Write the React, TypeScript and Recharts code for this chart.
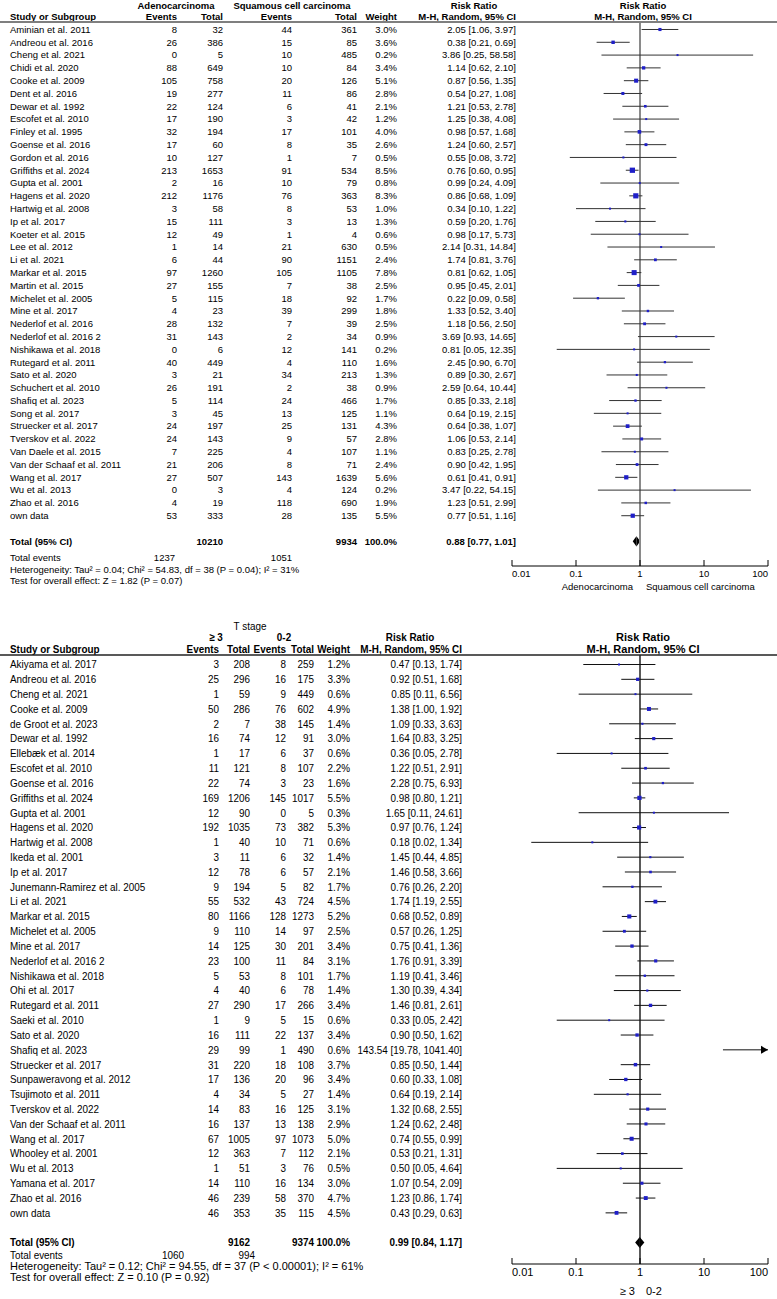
import React from "react"
import {
  ComposedChart,
  Scatter,
  ErrorBar,
  XAxis,
  YAxis,
  ReferenceLine,
  ReferenceArea,
  ReferenceDot,
} from "recharts"

const FONT = "'Liberation Sans', Arial, sans-serif"

const logTicks = [0.01, 0.1, 1, 10, 100]

// ---- panel 1: adenocarcinoma vs squamous cell carcinoma ----
const histStudies = [
  "Aminian et al. 2011", "Andreou et al. 2016", "Cheng et al. 2021", "Chidi et al. 2020",
  "Cooke et al. 2009", "Dent et al. 2016", "Dewar et al. 1992", "Escofet et al. 2010",
  "Finley et al. 1995", "Goense et al. 2016", "Gordon et al. 2016", "Griffiths et al. 2024",
  "Gupta et al. 2001", "Hagens et al. 2020", "Hartwig et al. 2008", "Ip et al. 2017",
  "Koeter et al. 2015", "Lee et al. 2012", "Li et al. 2021", "Markar et al. 2015",
  "Martin et al. 2015", "Michelet et al. 2005", "Mine et al. 2017", "Nederlof et al. 2016",
  "Nederlof et al. 2016 2", "Nishikawa et al. 2018", "Rutegard et al. 2011", "Sato et al. 2020",
  "Schuchert et al. 2010", "Shafiq et al. 2023", "Song et al. 2017", "Struecker et al. 2017",
  "Tverskov et al. 2022", "Van Daele et al. 2015", "Van der Schaaf et al. 2011", "Wang et al. 2017",
  "Wu et al. 2013", "Zhao et al. 2016", "own data",
]
const histAdenoEvents = [8, 26, 0, 88, 105, 19, 22, 17, 32, 17, 10, 213, 2, 212, 3, 15, 12, 1, 6, 97, 27, 5, 4, 28, 31, 0, 40, 3, 26, 5, 3, 24, 24, 7, 21, 27, 0, 4, 53]
const histAdenoTotal = [32, 386, 5, 649, 758, 277, 124, 190, 194, 60, 127, 1653, 16, 1176, 58, 111, 49, 14, 44, 1260, 155, 115, 23, 132, 143, 6, 449, 21, 191, 114, 45, 197, 143, 225, 206, 507, 3, 19, 333]
const histSccEvents = [44, 15, 10, 10, 20, 11, 6, 3, 17, 8, 1, 91, 10, 76, 8, 3, 1, 21, 90, 105, 7, 18, 39, 7, 2, 12, 4, 34, 2, 24, 13, 25, 9, 4, 8, 143, 4, 118, 28]
const histSccTotal = [361, 85, 485, 84, 126, 86, 41, 42, 101, 35, 7, 534, 79, 363, 53, 13, 4, 630, 1151, 1105, 38, 92, 299, 39, 34, 141, 110, 213, 38, 466, 125, 131, 57, 107, 71, 1639, 124, 690, 135]
const histWeight = [3.0, 3.6, 0.2, 3.4, 5.1, 2.8, 2.1, 1.2, 4.0, 2.6, 0.5, 8.5, 0.8, 8.3, 1.0, 1.3, 0.6, 0.5, 2.4, 7.8, 2.5, 1.7, 1.8, 2.5, 0.9, 0.2, 1.6, 1.3, 0.9, 1.7, 1.1, 4.3, 2.8, 1.1, 2.4, 5.6, 0.2, 1.9, 5.5]
const histRR = [2.05, 0.38, 3.86, 1.14, 0.87, 0.54, 1.21, 1.25, 0.98, 1.24, 0.55, 0.76, 0.99, 0.86, 0.34, 0.59, 0.98, 2.14, 1.74, 0.81, 0.95, 0.22, 1.33, 1.18, 3.69, 0.81, 2.45, 0.89, 2.59, 0.85, 0.64, 0.64, 1.06, 0.83, 0.90, 0.61, 3.47, 1.23, 0.77]
const histLow = [1.06, 0.21, 0.25, 0.62, 0.56, 0.27, 0.53, 0.38, 0.57, 0.60, 0.08, 0.60, 0.24, 0.68, 0.10, 0.20, 0.17, 0.31, 0.81, 0.62, 0.45, 0.09, 0.52, 0.56, 0.93, 0.05, 0.90, 0.30, 0.64, 0.33, 0.19, 0.38, 0.53, 0.25, 0.42, 0.41, 0.22, 0.51, 0.51]
const histHigh = [3.97, 0.69, 58.58, 2.10, 1.35, 1.08, 2.78, 4.08, 1.68, 2.57, 3.72, 0.95, 4.09, 1.09, 1.22, 1.76, 5.73, 14.84, 3.76, 1.05, 2.01, 0.58, 3.40, 2.50, 14.65, 12.35, 6.70, 2.67, 10.44, 2.18, 2.15, 1.07, 2.14, 2.78, 1.95, 0.91, 54.15, 2.99, 1.16]
const histPooled = [0.88, 0.77, 1.01]
const histSampleTotals = [10210, 9934]
const histEventTotals = [1237, 1051]
const histHeterogeneity = "Heterogeneity: Tau² = 0.04; Chi² = 54.83, df = 38 (P = 0.04); I² = 31%"
const histOverall = "Test for overall effect: Z = 1.82 (P = 0.07)"

// ---- panel 2: T stage >= 3 vs 0-2 ----
const tStudies = [
  "Akiyama et al. 2017", "Andreou et al. 2016", "Cheng et al. 2021", "Cooke et al. 2009",
  "de Groot et al. 2023", "Dewar et al. 1992", "Ellebæk et al. 2014", "Escofet et al. 2010",
  "Goense et al. 2016", "Griffiths et al. 2024", "Gupta et al. 2001", "Hagens et al. 2020",
  "Hartwig et al. 2008", "Ikeda et al. 2001", "Ip et al. 2017", "Junemann-Ramirez et al. 2005",
  "Li et al. 2021", "Markar et al. 2015", "Michelet et al. 2005", "Mine et al. 2017",
  "Nederlof et al. 2016 2", "Nishikawa et al. 2018", "Ohi et al. 2017", "Rutegard et al. 2011",
  "Saeki et al. 2010", "Sato et al. 2020", "Shafiq et al. 2023", "Struecker et al. 2017",
  "Sunpaweravong et al. 2012", "Tsujimoto et al. 2011", "Tverskov et al. 2022", "Van der Schaaf et al. 2011",
  "Wang et al. 2017", "Whooley et al. 2001", "Wu et al. 2013", "Yamana et al. 2017",
  "Zhao et al. 2016", "own data",
]
const tHighEvents = [3, 25, 1, 50, 2, 16, 1, 11, 22, 169, 12, 192, 1, 3, 12, 9, 55, 80, 9, 14, 23, 5, 4, 27, 1, 16, 29, 31, 17, 4, 14, 16, 67, 12, 1, 14, 46, 46]
const tHighTotal = [208, 296, 59, 286, 7, 74, 17, 121, 74, 1206, 90, 1035, 40, 11, 78, 194, 532, 1166, 110, 125, 100, 53, 40, 290, 9, 111, 99, 220, 136, 34, 83, 137, 1005, 363, 51, 110, 239, 353]
const tLowEvents = [8, 16, 9, 76, 38, 12, 6, 8, 3, 145, 0, 73, 10, 6, 6, 5, 43, 128, 14, 30, 11, 8, 6, 17, 5, 22, 1, 18, 20, 5, 16, 13, 97, 7, 3, 16, 58, 35]
const tLowTotal = [259, 175, 449, 602, 145, 91, 37, 107, 23, 1017, 5, 382, 71, 32, 57, 82, 724, 1273, 97, 201, 84, 101, 78, 266, 15, 137, 490, 108, 96, 27, 125, 138, 1073, 112, 76, 134, 370, 115]
const tWeight = [1.2, 3.3, 0.6, 4.9, 1.4, 3.0, 0.6, 2.2, 1.6, 5.5, 0.3, 5.3, 0.6, 1.4, 2.1, 1.7, 4.5, 5.2, 2.5, 3.4, 3.1, 1.7, 1.4, 3.4, 0.6, 3.4, 0.6, 3.7, 3.4, 1.4, 3.1, 2.9, 5.0, 2.1, 0.5, 3.0, 4.7, 4.5]
const tRR = [0.47, 0.92, 0.85, 1.38, 1.09, 1.64, 0.36, 1.22, 2.28, 0.98, 1.65, 0.97, 0.18, 1.45, 1.46, 0.76, 1.74, 0.68, 0.57, 0.75, 1.76, 1.19, 1.30, 1.46, 0.33, 0.90, 143.54, 0.85, 0.60, 0.64, 1.32, 1.24, 0.74, 0.53, 0.50, 1.07, 1.23, 0.43]
const tLow = [0.13, 0.51, 0.11, 1.00, 0.33, 0.83, 0.05, 0.51, 0.75, 0.80, 0.11, 0.76, 0.02, 0.44, 0.58, 0.26, 1.19, 0.52, 0.26, 0.41, 0.91, 0.41, 0.39, 0.81, 0.05, 0.50, 19.78, 0.50, 0.33, 0.19, 0.68, 0.62, 0.55, 0.21, 0.05, 0.54, 0.86, 0.29]
const tHigh = [1.74, 1.68, 6.56, 1.92, 3.63, 3.25, 2.78, 2.91, 6.93, 1.21, 24.61, 1.24, 1.34, 4.85, 3.66, 2.20, 2.55, 0.89, 1.25, 1.36, 3.39, 3.46, 4.34, 2.61, 2.42, 1.62, 1041.40, 1.44, 1.08, 2.14, 2.55, 2.48, 0.99, 1.31, 4.64, 2.09, 1.74, 0.63]
const tPooled = [0.99, 0.84, 1.17]
const tSampleTotals = [9162, 9374]
const tEventTotals = [1060, 994]
const tHeterogeneity = "Heterogeneity: Tau² = 0.12; Chi² = 94.55, df = 37 (P < 0.00001); I² = 61%"
const tOverall = "Test for overall effect: Z = 0.10 (P = 0.92)"

type Cell = { x: number; anchor: "start" | "middle" | "end"; text: string }
type Row = { row: number; bold: boolean; cells: Cell[] }

const f2 = (v: number) => v.toFixed(2)
const ciLabel = (r: number, l: number, h: number) => `${f2(r)} [${f2(l)}, ${f2(h)}]`

// text squeezed horizontally a bit, like the condensed table type of the original
function Txt({ x, y, sx = 1, anchor = "start", size, bold = false, children }: any) {
  return (
    <text
      transform={`translate(${x},${y}) scale(${sx},1)`}
      dy="0.35em"
      textAnchor={anchor}
      fontFamily={FONT}
      fontSize={size}
      fontWeight={bold ? 700 : 400}
      fill="#000"
    >
      {children}
    </text>
  )
}

function buildRows(
  names: string[], e1: number[], n1: number[], e2: number[], n2: number[], w: number[],
  rr: number[], lo: number[], hi: number[], pooled: number[], sizes: number[], events: number[],
  cols: any, totalRow: number, eventsRow: number,
): Row[] {
  const rows: Row[] = names.map((name, i) => ({
    row: i,
    bold: false,
    cells: [
      { x: cols.name, anchor: "start", text: name },
      { x: cols.e1, anchor: "end", text: String(e1[i]) },
      { x: cols.t1, anchor: "end", text: String(n1[i]) },
      { x: cols.e2, anchor: "end", text: String(e2[i]) },
      { x: cols.t2, anchor: "end", text: String(n2[i]) },
      { x: cols.w, anchor: "end", text: w[i].toFixed(1) + "%" },
      { x: cols.ci, anchor: "end", text: ciLabel(rr[i], lo[i], hi[i]) },
    ],
  }))
  rows.push({
    row: totalRow,
    bold: true,
    cells: [
      { x: cols.name, anchor: "start", text: "Total (95% CI)" },
      { x: cols.t1, anchor: "end", text: String(sizes[0]) },
      { x: cols.t2, anchor: "end", text: String(sizes[1]) },
      { x: cols.w, anchor: "end", text: "100.0%" },
      { x: cols.ci, anchor: "end", text: ciLabel(pooled[0], pooled[1], pooled[2]) },
    ],
  })
  rows.push({
    row: eventsRow,
    bold: false,
    cells: [
      { x: cols.name, anchor: "start", text: "Total events" },
      { x: cols.te1, anchor: "end", text: String(events[0]) },
      { x: cols.te2, anchor: "end", text: String(events[1]) },
    ],
  })
  return rows
}

const leftHalf = (p: any) => (
  <polygon points={`${p.x},${p.y + p.height / 2} ${p.x + p.width},${p.y} ${p.x + p.width},${p.y + p.height}`} fill="#000" />
)
const rightHalf = (p: any) => (
  <polygon points={`${p.x},${p.y} ${p.x + p.width},${p.y + p.height / 2} ${p.x},${p.y + p.height}`} fill="#000" />
)
const arrowRight = (p: any) => (
  <polygon points={`${p.cx},${p.cy} ${p.cx - 7},${p.cy - 4} ${p.cx - 7},${p.cy + 4}`} fill="#000" />
)
const arrowLeft = (p: any) => (
  <polygon points={`${p.cx},${p.cy} ${p.cx + 7},${p.cy - 4} ${p.cx + 7},${p.cy + 4}`} fill="#000" />
)

function Forest(props: any) {
  const { names, rr, lo, hi, w, pooled, rows, height, top, axisH, domain, totalRow, fs, sx, axisFs, refStroke, refWidth, ciStroke, diamondHalf } = props
  // CIs running past the axis are cut at its ends (an arrow marks them)
  const points = names.map((_: string, i: number) => ({
    row: i,
    rr: rr[i],
    w: w[i],
    err: [rr[i] - Math.max(lo[i], 0.01), Math.min(hi[i], 100) - rr[i]],
  }))

  const rowTick = (p: any) => {
    const r = rows.find((q: Row) => Math.abs(q.row - p.payload.value) < 1e-6)
    if (!r) return <g />
    return (
      <g>
        {r.cells.map((c: Cell, k: number) => (
          <Txt key={k} x={c.x} y={p.y} sx={sx} anchor={c.anchor} size={fs} bold={r.bold}>{c.text}</Txt>
        ))}
      </g>
    )
  }

  const axisTick = (p: any) => {
    const last = logTicks.length - 1
    const anchor = p.index === 0 ? "start" : p.index === last ? "end" : "middle"
    return (
      <g>
        <line x1={p.x} x2={p.x} y1={p.y - 6} y2={p.y} stroke="#000" strokeWidth={1} />
        <text x={p.x} y={p.y + axisFs + 1} textAnchor={anchor} fontFamily={FONT} fontSize={axisFs} fill="#000">
          {String(p.payload.value)}
        </text>
      </g>
    )
  }

  const square = (p: any) => {
    const s = Math.max(2, 1.8 * Math.sqrt(p.payload.w))
    return <rect x={p.cx - s / 2} y={p.cy - s / 2} width={s} height={s} fill="#1f1fc8" />
  }

  return (
    <ComposedChart width={777} height={height} margin={{ top, right: 9, bottom: 0, left: 0 }}>
      <XAxis
        type="number"
        dataKey="rr"
        scale="log"
        domain={[0.01, 100]}
        allowDataOverflow
        ticks={logTicks}
        interval={0}
        tickLine={false}
        tickSize={0}
        tickMargin={0}
        height={axisH}
        axisLine={{ stroke: "#000", strokeWidth: 1 }}
        tick={axisTick}
      />
      <YAxis
        type="number"
        dataKey="row"
        domain={domain}
        reversed
        allowDataOverflow
        width={512}
        ticks={rows.map((r: Row) => r.row)}
        interval={0}
        axisLine={false}
        tickLine={false}
        tick={rowTick}
      />
      <ReferenceLine x={1} stroke={refStroke} strokeWidth={refWidth} />
      <Scatter data={points} isAnimationActive={false} shape={square}>
        <ErrorBar dataKey="err" direction="x" width={0} stroke={ciStroke} strokeWidth={1} isAnimationActive={false} />
      </Scatter>
      <ReferenceArea x1={pooled[1]} x2={pooled[0]} y1={totalRow - diamondHalf} y2={totalRow + diamondHalf} shape={leftHalf} />
      <ReferenceArea x1={pooled[0]} x2={pooled[2]} y1={totalRow - diamondHalf} y2={totalRow + diamondHalf} shape={rightHalf} />
      {names.map((_: string, i: number) =>
        hi[i] > 100 ? <ReferenceDot key={"r" + i} x={100} y={i} r={0} shape={arrowRight} /> : null,
      )}
      {names.map((_: string, i: number) =>
        lo[i] < 0.01 ? <ReferenceDot key={"l" + i} x={0.01} y={i} r={0} shape={arrowLeft} /> : null,
      )}
    </ComposedChart>
  )
}

export default function App() {
  const histCols = { name: 10, e1: 177, t1: 223, e2: 292, t2: 357, w: 397, ci: 516, te1: 175, te2: 292 }
  const tCols = { name: 10, e1: 219, t1: 250, e2: 286, t2: 314, w: 350, ci: 462, te1: 184, te2: 255 }

  const histRows = buildRows(histStudies, histAdenoEvents, histAdenoTotal, histSccEvents, histSccTotal, histWeight,
    histRR, histLow, histHigh, histPooled, histSampleTotals, histEventTotals, histCols, 40, 41.3)
  const tRows = buildRows(tStudies, tHighEvents, tHighTotal, tLowEvents, tLowTotal, tWeight,
    tRR, tLow, tHigh, tPooled, tSampleTotals, tEventTotals, tCols, 39, 39.85)

  const fsA = 9.5
  const sxA = 1
  const fsB = 11
  const sxB = 0.9

  return (
    <div style={{ position: "absolute", left: 0, top: 0, width: 777, height: 1299, background: "#fff" }}>
      {/* top panel */}
      <div style={{ position: "absolute", left: 0, top: 0, width: 777, height: 600 }}>
        <Forest
          names={histStudies} rr={histRR} lo={histLow} hi={histHigh} w={histWeight} pooled={histPooled}
          rows={histRows} height={600} top={22} axisH={34} domain={[-0.586, 41.93]} totalRow={40}
          fs={fsA} sx={sxA} axisFs={9.5} refStroke="#8a8a8a" refWidth={2} ciStroke="#333" diamondHalf={0.4}
        />
        <svg width={777} height={600} style={{ position: "absolute", left: 0, top: 0, pointerEvents: "none" }}>
          <Txt x={176} y={6} anchor="middle" size={fsA} bold>Adenocarcinoma</Txt>
          <Txt x={292} y={6} anchor="middle" size={fsA} bold>Squamous cell carcinoma</Txt>
          <Txt x={474} y={6} anchor="middle" size={fsA} bold>Risk Ratio</Txt>
          <Txt x={643} y={6} anchor="middle" size={fsA} bold>Risk Ratio</Txt>
          <Txt x={10} y={17} size={fsA} bold>Study or Subgroup</Txt>
          <Txt x={177} y={17} anchor="end" size={fsA} bold>Events</Txt>
          <Txt x={223} y={17} anchor="end" size={fsA} bold>Total</Txt>
          <Txt x={292} y={17} anchor="end" size={fsA} bold>Events</Txt>
          <Txt x={357} y={17} anchor="end" size={fsA} bold>Total</Txt>
          <Txt x={397} y={17} anchor="end" size={fsA} bold>Weight</Txt>
          <Txt x={516} y={17} anchor="end" size={fsA} bold>M-H, Random, 95% CI</Txt>
          <Txt x={643} y={17} anchor="middle" size={fsA} bold>M-H, Random, 95% CI</Txt>
          <line x1={0} x2={777} y1={22} y2={22} stroke="#7f7f7f" strokeWidth={2} />
          <Txt x={10} y={570} size={fsA}>{histHeterogeneity}</Txt>
          <Txt x={10} y={581} size={fsA}>{histOverall}</Txt>
          <Txt x={633} y={587} anchor="end" size={9.5}>Adenocarcinoma</Txt>
          <Txt x={646} y={587} size={9.5}>Squamous cell carcinoma</Txt>
        </svg>
      </div>

      {/* bottom panel */}
      <div style={{ position: "absolute", left: 0, top: 600, width: 777, height: 699 }}>
        <Forest
          names={tStudies} rr={tRR} lo={tLow} hi={tHigh} w={tWeight} pooled={tPooled}
          rows={tRows} height={699} top={55} axisH={35} domain={[-0.641, 40.45]} totalRow={39}
          fs={fsB} sx={sxB} axisFs={11} refStroke="#000" refWidth={1.3} ciStroke="#111" diamondHalf={0.37}
        />
        <svg width={777} height={699} style={{ position: "absolute", left: 0, top: 0, pointerEvents: "none" }}>
          <Txt x={250} y={26} anchor="middle" size={fsB} sx={sxB}>T stage</Txt>
          <Txt x={216} y={37} anchor="middle" size={fsB} sx={sxB} bold>≥ 3</Txt>
          <Txt x={284} y={37} anchor="middle" size={fsB} sx={sxB} bold>0-2</Txt>
          <Txt x={410} y={37} anchor="middle" size={fsB} sx={sxB} bold>Risk Ratio</Txt>
          <Txt x={643} y={37} anchor="middle" size={fsB} bold>Risk Ratio</Txt>
          <Txt x={10} y={49} size={fsB} sx={sxB} bold>Study or Subgroup</Txt>
          <Txt x={219} y={49} anchor="end" size={fsB} sx={sxB} bold>Events</Txt>
          <Txt x={250} y={49} anchor="end" size={fsB} sx={sxB} bold>Total</Txt>
          <Txt x={286} y={49} anchor="end" size={fsB} sx={sxB} bold>Events</Txt>
          <Txt x={314} y={49} anchor="end" size={fsB} sx={sxB} bold>Total</Txt>
          <Txt x={350} y={49} anchor="end" size={fsB} sx={sxB} bold>Weight</Txt>
          <Txt x={462} y={49} anchor="end" size={fsB} sx={sxB} bold>M-H, Random, 95% CI</Txt>
          <Txt x={643} y={49} anchor="middle" size={fsB} bold>M-H, Random, 95% CI</Txt>
          <line x1={0} x2={777} y1={55} y2={55} stroke="#222" strokeWidth={1.5} />
          <Txt x={10} y={666} size={fsB}>{tHeterogeneity}</Txt>
          <Txt x={10} y={677} size={fsB}>{tOverall}</Txt>
          <Txt x={635} y={691} anchor="end" size={11}>≥ 3</Txt>
          <Txt x={646} y={691} size={11}>0-2</Txt>
        </svg>
      </div>
    </div>
  )
}
